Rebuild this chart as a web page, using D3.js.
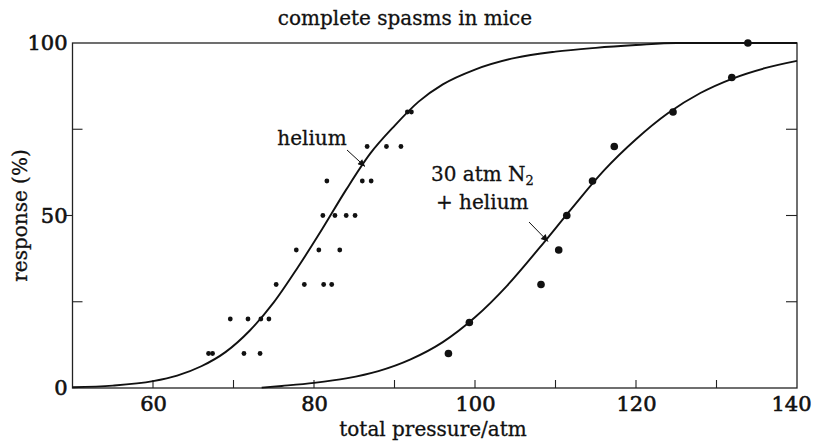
<!DOCTYPE html>
<html>
<head>
<meta charset="utf-8">
<script src="https://cdn.jsdelivr.net/npm/d3@7"></script>
<style>
    body { margin: 0; background: #fff; }
    #chart { width: 815px; height: 441px; }
    text { font-family: "DejaVu Serif", serif; fill: #111; stroke: #111; stroke-width: 0.3px; }
    .axis path, .axis line { stroke: none; }
    .axis text { font-size: 21px; stroke-width: 0.6px; }
</style>
</head>
<body>
<div id="chart"></div>
<script>
/* readings taken off the figure */
const heliumPressure = [86.6, 89.0, 90.8, 91.6, 92.1, 81.6, 86.0, 87.1, 81.1, 82.6, 84.0, 85.1,
    77.8, 80.6, 83.2, 75.3, 78.8, 81.2, 82.2, 69.6, 71.8, 73.4, 74.4, 66.9, 67.4, 71.3, 73.3];
const heliumResponse = [70, 70, 70, 80, 80, 60, 60, 60, 50, 50, 50, 50,
    40, 40, 40, 30, 30, 30, 30, 20, 20, 20, 20, 10, 10, 10, 10];

const n2Pressure = [96.7, 99.3, 108.2, 110.4, 111.4, 114.6, 117.3, 124.6, 131.9, 133.9];
const n2Response = [10, 19, 30, 40, 50, 60, 70, 80, 90, 100];

// fitted curves as drawn, read at several pressures
const heliumCurvePressure = [50, 55, 60, 63, 66, 69, 72, 75, 78, 81, 84, 87, 90, 93, 96, 100, 105, 110, 115, 120, 125, 140];
const heliumCurveResponse = [0.2, 0.7, 2.0, 3.6, 6.3, 10.4, 16.6, 24.8, 35, 46, 57.5, 68, 76, 83, 88, 92.3, 95.7, 97.5, 98.6, 99.4, 100, 100];

const n2CurvePressure = [73.5, 76, 80, 84, 88, 92, 96, 100, 104, 108, 112, 116, 120, 124, 128, 132, 136, 140];
const n2CurveResponse = [0.1, 0.6, 1.5, 2.8, 4.9, 8.3, 13.3, 20.5, 29.7, 40.6, 52, 63, 72.1, 79.7, 85.5, 89.7, 92.7, 94.8];

const xTickLabels = [60, 80, 100, 120, 140];
const xMinorTicks = [60, 70, 80, 90, 100, 110, 120, 130];
const yTickLabels = [0, 50, 100];

const width = 815;
const height = 441;
const margin = { top: 43, left: 72.5, right: 18, bottom: 53 };

const svg = d3.select("#chart")
    .append("svg")
    .attr("width", width)
    .attr("height", height);

const xScale = d3.scaleLinear()
    .domain([50, 140])
    .range([margin.left, width - margin.right]);

const yScale = d3.scaleLinear()
    .domain([0, 100])
    .range([height - margin.bottom, margin.top]);

const x0 = xScale(50), x1 = xScale(140), y0 = yScale(0), y1 = yScale(100);

// frame
svg.append("rect")
    .attr("x", x0).attr("y", y1)
    .attr("width", x1 - x0).attr("height", y0 - y1)
    .attr("fill", "none")
    .attr("stroke", "#222")
    .attr("stroke-width", 1.3);

// inner ticks on bottom
svg.selectAll(".xtick")
    .data(xMinorTicks)
    .join("line")
    .attr("x1", d => xScale(d)).attr("x2", d => xScale(d))
    .attr("y1", y0).attr("y2", y0 - 8)
    .attr("stroke", "#222").attr("stroke-width", 1.1);

// left ticks: 25 and 75 inside, 50 outside
svg.selectAll(".ltick")
    .data([25, 75])
    .join("line")
    .attr("x1", x0).attr("x2", x0 + 10)
    .attr("y1", d => yScale(d)).attr("y2", d => yScale(d))
    .attr("stroke", "#222").attr("stroke-width", 1.1);

svg.append("line")
    .attr("x1", x0 - 7).attr("x2", x0)
    .attr("y1", yScale(50)).attr("y2", yScale(50))
    .attr("stroke", "#222").attr("stroke-width", 1.1);

// right ticks inside
svg.selectAll(".rtick")
    .data([25, 50, 75])
    .join("line")
    .attr("x1", x1 - 11).attr("x2", x1)
    .attr("y1", d => yScale(d)).attr("y2", d => yScale(d))
    .attr("stroke", "#222").attr("stroke-width", 1.1);

const xAxis = svg.append("g")
    .attr("class", "axis")
    .attr("transform", `translate(0,${y0})`)
    .call(d3.axisBottom(xScale).tickValues(xTickLabels).tickSize(0).tickPadding(8));

// keep the last label inside the window
xAxis.selectAll(".tick text")
    .filter(d => d === 140)
    .attr("text-anchor", "end")
    .attr("x", 14);

const yAxis = svg.append("g")
    .attr("class", "axis")
    .attr("transform", `translate(${x0},0)`)
    .call(d3.axisLeft(yScale).tickValues(yTickLabels).tickSize(0).tickPadding(5));

svg.selectAll(".axis .domain").remove();
svg.selectAll(".axis text").attr("font-family", "DejaVu Serif").attr("fill", "#111");

// curves
const line = d3.line()
    .x(d => xScale(d[0]))
    .y(d => yScale(d[1]))
    .curve(d3.curveMonotoneX);

svg.append("path")
    .datum(d3.zip(heliumCurvePressure, heliumCurveResponse))
    .attr("d", line)
    .attr("fill", "none")
    .attr("stroke", "#111")
    .attr("stroke-width", 1.9);

svg.append("path")
    .datum(d3.zip(n2CurvePressure, n2CurveResponse))
    .attr("d", line)
    .attr("fill", "none")
    .attr("stroke", "#111")
    .attr("stroke-width", 1.9);

// points
svg.selectAll(".he")
    .data(d3.zip(heliumPressure, heliumResponse))
    .join("circle")
    .attr("cx", d => xScale(d[0]))
    .attr("cy", d => yScale(d[1]))
    .attr("r", 2.4)
    .attr("fill", "#111");

svg.selectAll(".n2")
    .data(d3.zip(n2Pressure, n2Response))
    .join("circle")
    .attr("cx", d => xScale(d[0]))
    .attr("cy", d => yScale(d[1]))
    .attr("r", 3.8)
    .attr("fill", "#111");

// titles
svg.append("text")
    .attr("x", 405).attr("y", 25)
    .attr("text-anchor", "middle")
    .attr("font-size", 20)
    .text("complete spasms in mice");

svg.append("text")
    .attr("x", 433).attr("y", 436)
    .attr("text-anchor", "middle")
    .attr("font-size", 20)
    .text("total pressure/atm");

svg.append("text")
    .attr("transform", "rotate(-90)")
    .attr("x", -(y0 + y1) / 2)
    .attr("y", 27)
    .attr("text-anchor", "middle")
    .attr("font-size", 20)
    .text("response (%)");

// annotations
svg.append("defs").append("marker")
    .attr("id", "arrow")
    .attr("viewBox", "0 0 10 10")
    .attr("refX", 10).attr("refY", 5)
    .attr("markerWidth", 11).attr("markerHeight", 7)
    .attr("markerUnits", "userSpaceOnUse")
    .attr("orient", "auto")
    .append("path")
    .attr("d", "M0,0 L10,5 L0,10 z")
    .attr("fill", "#111");

svg.append("text")
    .attr("x", 312).attr("y", 145)
    .attr("text-anchor", "middle")
    .attr("font-size", 20)
    .text("helium");

svg.append("line")
    .attr("x1", 347).attr("y1", 150)
    .attr("x2", 365).attr("y2", 166.5)
    .attr("stroke", "#111").attr("stroke-width", 1)
    .attr("marker-end", "url(#arrow)");

const n2Label = svg.append("text")
    .attr("x", 431).attr("y", 181)
    .attr("font-size", 20);
n2Label.append("tspan").text("30 atm N");
n2Label.append("tspan").attr("font-size", 13).attr("dy", 4).text("2");

svg.append("text")
    .attr("x", 436).attr("y", 209)
    .attr("font-size", 20)
    .text("+ helium");

svg.append("line")
    .attr("x1", 529).attr("y1", 222)
    .attr("x2", 548).attr("y2", 241.5)
    .attr("stroke", "#111").attr("stroke-width", 1)
    .attr("marker-end", "url(#arrow)");
</script>
</body>
</html>
